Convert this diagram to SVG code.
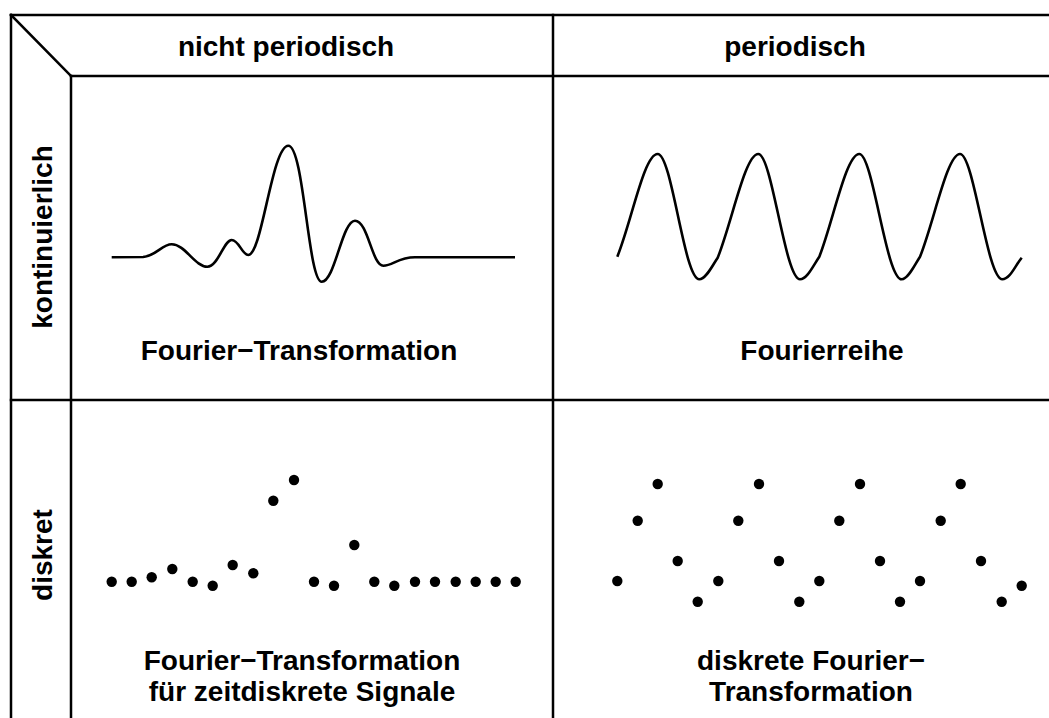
<svg xmlns="http://www.w3.org/2000/svg" width="1049" height="718" viewBox="0 0 1049 718">
  <style>
    .grid { stroke: #000; stroke-width: 2.5; fill: none; stroke-linecap: square; }
    .wave { stroke: #000; stroke-width: 2.6; fill: none; stroke-linejoin: round; }
    .lbl { font-family: "Liberation Sans", Arial, Helvetica, sans-serif; font-weight: bold; font-size: 28px; fill: #000; text-anchor: middle; }
    .dot { fill: #000; }
  </style>
  <defs>
    <circle id="d" r="5.2" class="dot"/>
  </defs>
  <rect x="0" y="0" width="1049" height="718" fill="#fff"/>

  <g id="grid">
    <line class="grid" x1="11" y1="15" x2="1049" y2="15"/>
    <line class="grid" x1="11" y1="15" x2="11" y2="718"/>
    <line class="grid" x1="11" y1="15" x2="71" y2="76"/>
    <line class="grid" x1="71" y1="76" x2="1049" y2="76"/>
    <line class="grid" x1="71" y1="76" x2="71" y2="718"/>
    <line class="grid" x1="553" y1="15" x2="553" y2="718"/>
    <line class="grid" x1="11" y1="400" x2="1049" y2="400"/>
  </g>

  <g id="header-nicht-periodisch">
    <text class="lbl" x="286" y="56">nicht periodisch</text>
  </g>
  <g id="header-periodisch">
    <text class="lbl" x="795" y="56">periodisch</text>
  </g>
  <g id="row-kontinuierlich">
    <text class="lbl" transform="translate(52,237) rotate(-90)">kontinuierlich</text>
  </g>
  <g id="row-diskret">
    <text class="lbl" transform="translate(52,555) rotate(-90)">diskret</text>
  </g>

  <g id="cell-fourier-transformation">
    <path class="wave" d="M111.7,257.3 L143,257 C156,256 162,244.3 171.7,244.3 C185,244.3 195,266.7 207.3,266.7 C218,266.7 224,240 231.7,240 C239,240 242,255 248.3,255 C262,255 272,145.7 288.3,145.7 C304,145.7 308,281.7 321.7,281.7 C335,281.7 342,220.7 355,220.7 C368,220.7 372,265.7 383.3,265.7 C393,265.7 398,257.3 415,257.3 L515,257.3"/>
    <text class="lbl" x="299" y="360">Fourier−Transformation</text>
  </g>

  <g id="cell-fourierreihe">
    <path class="wave" d="M617.3,256.7 C632,220 644,154 657.7,154 C672,154 684,279.3 699.3,279.3 C706,279.3 712,266 717.7,257.7 C732,222 745,154 758.3,154 C772,154 785,279.3 800,279.3 C807,279.3 813,266 819.3,256.7 C833,222 846,154 859.3,154 C873,154 886,279.3 901.7,279.3 C908,279.3 914,266 920,256.7 C934,222 947,154 960,154 C974,154 987,279.3 1002.3,279.3 C1010,279.3 1015,266 1021.7,257.7"/>
    <text class="lbl" x="822" y="360">Fourierreihe</text>
  </g>

  <g id="cell-dtft">
    <use href="#d" x="111.7" y="581.7"/>
    <use href="#d" x="131.7" y="581.7"/>
    <use href="#d" x="151.7" y="577.3"/>
    <use href="#d" x="172.3" y="569"/>
    <use href="#d" x="192.7" y="581.7"/>
    <use href="#d" x="212.7" y="585.7"/>
    <use href="#d" x="232.7" y="565"/>
    <use href="#d" x="253.3" y="573.3"/>
    <use href="#d" x="273.3" y="500.7"/>
    <use href="#d" x="294" y="480"/>
    <use href="#d" x="314" y="581.7"/>
    <use href="#d" x="334" y="585.7"/>
    <use href="#d" x="354.3" y="545"/>
    <use href="#d" x="374.3" y="581.7"/>
    <use href="#d" x="394.3" y="585.7"/>
    <use href="#d" x="415" y="581.7"/>
    <use href="#d" x="435" y="581.7"/>
    <use href="#d" x="455.7" y="581.7"/>
    <use href="#d" x="475.7" y="581.7"/>
    <use href="#d" x="495.7" y="581.7"/>
    <use href="#d" x="515.7" y="581.7"/>
    <text class="lbl" x="302" y="670">Fourier−Transformation</text>
    <text class="lbl" x="302" y="701">für zeitdiskrete Signale</text>
  </g>

  <g id="cell-dft">
    <use href="#d" x="617.3" y="581"/>
    <use href="#d" x="637.7" y="520.7"/>
    <use href="#d" x="657.7" y="484"/>
    <use href="#d" x="677.7" y="561"/>
    <use href="#d" x="697.7" y="601.7"/>
    <use href="#d" x="718.3" y="581"/>
    <use href="#d" x="738.3" y="520.7"/>
    <use href="#d" x="759" y="484"/>
    <use href="#d" x="779" y="561"/>
    <use href="#d" x="799.3" y="601.7"/>
    <use href="#d" x="819.3" y="581"/>
    <use href="#d" x="839.3" y="520.7"/>
    <use href="#d" x="860" y="484"/>
    <use href="#d" x="880" y="561"/>
    <use href="#d" x="900" y="601.7"/>
    <use href="#d" x="920" y="581"/>
    <use href="#d" x="940.7" y="520.7"/>
    <use href="#d" x="960.7" y="484"/>
    <use href="#d" x="981" y="561"/>
    <use href="#d" x="1001.7" y="601.7"/>
    <use href="#d" x="1021.7" y="585.7"/>
    <text class="lbl" x="811" y="670">diskrete Fourier−</text>
    <text class="lbl" x="811" y="701">Transformation</text>
  </g>
</svg>
